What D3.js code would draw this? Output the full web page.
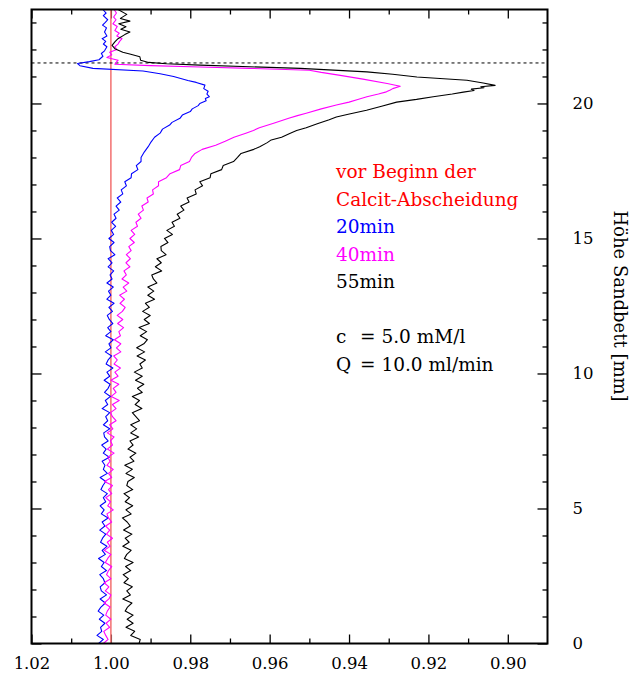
<!DOCTYPE html>
<html>
<head>
<meta charset="utf-8">
<script src="https://cdnjs.cloudflare.com/ajax/libs/d3/7.8.5/d3.min.js"></script>
<style>
  body { margin: 0; background: #fff; }
  svg text { font-family: "DejaVu Serif", serif; }
</style>
</head>
<body>
<div id="chart"></div>
<script>
// sample heights (mm) for the lower, noisy part of each profile: 0 .. 18 in 0.15 steps
const depthGrid = d3.range(121).map(i => +(i * 0.15).toFixed(2));

// 20 min (blue), values at depthGrid
const blueLow = [
  1.0031, 1.0019, 1.0035, 1.0023, 1.0026, 1.0015, 1.0029, 1.0018, 1.0032, 1.0025,
  1.0014, 1.0027, 1.0011, 1.0024, 1.0027, 1.0015, 1.0019, 1.0028, 1.0011, 1.0024,
  1.0017, 1.0031, 1.0014, 1.0022, 1.0010, 1.0026, 1.0021, 1.0013, 1.0028, 1.0015,
  1.0022, 1.0007, 1.0024, 1.0017, 1.0027, 1.0013, 1.0019, 1.0009, 1.0025, 1.0020,
  1.0013, 1.0027, 1.0009, 1.0019, 1.0015, 1.0022, 1.0004, 1.0019, 1.0012, 1.0023,
  1.0007, 1.0016, 1.0018, 1.0003, 1.0019, 1.0008, 1.0013, 1.0003, 1.0022, 1.0008,
  1.0014, 1.0001, 1.0016, 1.0007, 1.0002, 1.0017, 1.0003, 1.0010, 0.9995, 1.0012,
  1.0007, 0.9998, 1.0014, 1.0000, 1.0005, 0.9994, 1.0013, 1.0000, 1.0008, 0.9995,
  1.0004, 1.0009, 0.9996, 1.0005, 0.9992, 1.0010, 1.0000, 1.0006, 0.9994, 1.0010,
  0.9997, 1.0002, 0.9993, 1.0007, 0.9997, 1.0007, 0.9990, 1.0001, 1.0003, 0.9992,
  1.0005, 0.9993, 0.9999, 0.9988, 0.9998, 0.9987, 0.9992, 0.9979, 0.9987, 0.9975,
  0.9984, 0.9970, 0.9974, 0.9961, 0.9965, 0.9949, 0.9948, 0.9932, 0.9936, 0.9924,
  0.9924
];
// 20 min, upper part [height, value]
const blueTop = [
  [18.2, 0.9916], [18.4, 0.9906], [18.57, 0.9899], [18.75, 0.9890], [18.9, 0.9876],
  [19.05, 0.9870], [19.2, 0.9852], [19.3, 0.9846], [19.45, 0.9826], [19.57, 0.9820],
  [19.7, 0.9800], [19.8, 0.9795], [19.92, 0.9780], [20.0, 0.9776], [20.1, 0.9760],
  [20.18, 0.9762], [20.25, 0.9752], [20.35, 0.9758], [20.45, 0.9755], [20.55, 0.9766],
  [20.68, 0.9763], [20.78, 0.9785], [20.85, 0.9806], [21.0, 0.9842], [21.1, 0.9876],
  [21.2, 0.9919], [21.3, 1.0045], [21.4, 1.0078], [21.48, 1.0084], [21.55, 1.0054],
  [21.62, 1.0030], [21.75, 1.0020], [21.85, 1.0024], [21.95, 1.0016], [22.1, 1.0010],
  [22.2, 1.0019], [22.3, 1.0013], [22.4, 1.0022], [22.5, 1.0010], [22.65, 1.0016],
  [22.8, 1.0011], [22.9, 1.0021], [23.0, 1.0014], [23.1, 1.0008], [23.25, 1.0019],
  [23.35, 1.0012], [23.48, 1.0020]
];

// 40 min (magenta), values at depthGrid
const magentaLow = [
  1.0019, 1.0007, 1.0013, 1.0018, 1.0003, 1.0012, 1.0000, 1.0013, 1.0009, 1.0002,
  1.0017, 1.0005, 1.0000, 1.0014, 1.0005, 1.0017, 1.0000, 1.0011, 1.0006, 0.9998,
  1.0014, 1.0008, 1.0000, 1.0017, 1.0002, 1.0009, 0.9996, 1.0011, 1.0003, 1.0013,
  0.9998, 1.0006, 1.0010, 0.9994, 1.0008, 1.0001, 1.0013, 0.9998, 1.0006, 0.9996,
  1.0016, 0.9998, 1.0006, 0.9994, 1.0010, 1.0002, 1.0008, 0.9992, 1.0009, 0.9996,
  1.0001, 0.9992, 1.0009, 0.9995, 1.0003, 0.9987, 0.9996, 1.0001, 0.9987, 0.9996,
  0.9979, 0.9999, 0.9987, 0.9994, 0.9980, 1.0000, 0.9982, 0.9990, 0.9976, 0.9992,
  0.9984, 0.9993, 0.9975, 0.9986, 0.9975, 0.9991, 0.9976, 0.9980, 0.9968, 0.9983,
  0.9970, 0.9984, 0.9971, 0.9964, 0.9977, 0.9966, 0.9978, 0.9960, 0.9969, 0.9955,
  0.9972, 0.9961, 0.9967, 0.9952, 0.9962, 0.9951, 0.9961, 0.9949, 0.9955, 0.9941,
  0.9952, 0.9940, 0.9949, 0.9933, 0.9937, 0.9924, 0.9931, 0.9918, 0.9922, 0.9906,
  0.9909, 0.9893, 0.9895, 0.9880, 0.9880, 0.9860, 0.9851, 0.9827, 0.9824, 0.9802,
  0.9797
];
const magentaTop = [
  [18.15, 0.9788], [18.3, 0.9770], [18.45, 0.9736], [18.6, 0.9712], [18.75, 0.9690],
  [18.9, 0.9660], [19.0, 0.9641], [19.1, 0.9626], [19.27, 0.9590], [19.45, 0.9552],
  [19.55, 0.9530], [19.64, 0.9508], [19.8, 0.9470], [19.94, 0.9432], [20.05, 0.9400],
  [20.15, 0.9378], [20.25, 0.9355], [20.35, 0.9326], [20.43, 0.9306], [20.5, 0.9296],
  [20.55, 0.9290], [20.64, 0.9271], [20.74, 0.9304], [20.9, 0.9365], [21.04, 0.9422],
  [21.15, 0.9470], [21.23, 0.9500], [21.3, 0.9650], [21.35, 0.9775], [21.4, 0.9900],
  [21.45, 0.9990], [21.55, 0.9985], [21.6, 0.9982], [21.7, 1.0010], [21.8, 0.9998],
  [21.9, 1.0003], [22.0, 0.9985], [22.1, 0.9990], [22.2, 0.9982], [22.3, 0.9978],
  [22.4, 0.9972], [22.5, 0.9985], [22.6, 0.9979], [22.7, 0.9990], [22.85, 0.9984],
  [22.95, 0.9995], [23.1, 0.9987], [23.2, 0.9993], [23.35, 0.9986], [23.48, 0.9992]
];

// 55 min (black), values at depthGrid
const blackLow = [
  0.9929, 0.9926, 0.9950, 0.9940, 0.9962, 0.9944, 0.9959, 0.9944, 0.9964, 0.9958,
  0.9947, 0.9970, 0.9951, 0.9960, 0.9946, 0.9967, 0.9956, 0.9969, 0.9950, 0.9963,
  0.9944, 0.9966, 0.9960, 0.9949, 0.9970, 0.9954, 0.9964, 0.9947, 0.9968, 0.9951,
  0.9959, 0.9971, 0.9949, 0.9962, 0.9945, 0.9964, 0.9953, 0.9967, 0.9945, 0.9960,
  0.9957, 0.9941, 0.9962, 0.9946, 0.9965, 0.9942, 0.9952, 0.9937, 0.9957, 0.9944,
  0.9952, 0.9930, 0.9950, 0.9935, 0.9950, 0.9928, 0.9937, 0.9946, 0.9922, 0.9939,
  0.9928, 0.9946, 0.9921, 0.9933, 0.9917, 0.9938, 0.9921, 0.9941, 0.9921, 0.9927,
  0.9913, 0.9934, 0.9915, 0.9935, 0.9917, 0.9908, 0.9926, 0.9910, 0.9929, 0.9903,
  0.9916, 0.9901, 0.9920, 0.9903, 0.9913, 0.9890, 0.9907, 0.9892, 0.9907, 0.9884,
  0.9893, 0.9897, 0.9872, 0.9888, 0.9873, 0.9884, 0.9861, 0.9873, 0.9874, 0.9856,
  0.9865, 0.9845, 0.9859, 0.9840, 0.9846, 0.9826, 0.9833, 0.9816, 0.9824, 0.9803,
  0.9808, 0.9785, 0.9788, 0.9769, 0.9776, 0.9750, 0.9748, 0.9721, 0.9717, 0.9691,
  0.9681
];
const blackTop = [
  [18.15, 0.9672], [18.3, 0.9640], [18.4, 0.9625], [18.55, 0.9606], [18.65, 0.9596],
  [18.75, 0.9570], [18.9, 0.9548], [19.0, 0.9532], [19.1, 0.9508], [19.25, 0.9480],
  [19.4, 0.9450], [19.5, 0.9432], [19.6, 0.9402], [19.75, 0.9356], [19.9, 0.9318],
  [20.05, 0.9280], [20.15, 0.9230], [20.25, 0.9188], [20.35, 0.9140], [20.42, 0.9112],
  [20.48, 0.9085], [20.53, 0.9092], [20.58, 0.9060], [20.62, 0.9068], [20.67, 0.9032],
  [20.76, 0.9062], [20.86, 0.9103], [20.98, 0.9229], [21.08, 0.9290], [21.17, 0.9355],
  [21.3, 0.9523], [21.36, 0.9650], [21.42, 0.9775], [21.47, 0.9860], [21.52, 0.9905],
  [21.6, 0.9925], [21.73, 0.9927], [21.82, 0.9950], [21.9, 0.9970], [22.03, 0.9990],
  [22.15, 0.9997], [22.28, 0.9990], [22.4, 0.9982], [22.55, 0.9965], [22.65, 0.9952],
  [22.75, 0.9975], [22.84, 0.9962], [22.95, 0.9980], [23.05, 0.9952], [23.15, 0.9976],
  [23.3, 0.9960], [23.48, 0.9982]
];

const xTicks = [1.02, 1.00, 0.98, 0.96, 0.94, 0.92, 0.90];
const xMinor = [1.01, 0.99, 0.97, 0.95, 0.93, 0.91];
const yTicks = [0, 5, 10, 15, 20];
const yMinor = [1, 2, 3, 4, 6, 7, 8, 9, 11, 12, 13, 14, 16, 17, 18, 19, 21, 22, 23];
const initialLevel = 1.00;   // red line, before calcite precipitation
const bedTop = 21.5;         // dashed line

const legendLines = [
  { text: 'vor Beginn der', color: '#ff0000' },
  { text: 'Calcit-Abscheidung', color: '#ff0000' },
  { text: '20min', color: '#0000ff' },
  { text: '40min', color: '#ff00ff' },
  { text: '55min', color: '#000000' }
];

const width = 633, height = 675;
const margin = { top: 9.5, right: 85.5, bottom: 31.5, left: 31.5 };
const w = width - margin.left - margin.right;
const h = height - margin.top - margin.bottom;

const svg = d3.select('#chart').append('svg')
  .attr('width', width)
  .attr('height', height);

const g = svg.append('g')
  .attr('transform', `translate(${margin.left},${margin.top})`);

const x = d3.scaleLinear().domain([1.02, 0.89]).range([0, w]);
const y = d3.scaleLinear().domain([0, 23.48]).range([h, 0]);

g.append('clipPath').attr('id', 'plot-clip')
  .append('rect').attr('width', w).attr('height', h);

// axes: inward ticks on all four sides
function styleAxis(sel) {
  sel.select('.domain').remove();
  sel.selectAll('line').attr('stroke', '#000').attr('stroke-width', 1.3);
  sel.selectAll('text').attr('fill', '#000').style('font-size', '16.5px');
}

g.append('g').attr('transform', `translate(0,${h})`)
  .call(d3.axisBottom(x).tickValues(xTicks).tickSize(-9).tickPadding(14).tickFormat(d3.format('.2f')))
  .call(styleAxis);
g.append('g').attr('transform', `translate(0,${h})`)
  .call(d3.axisBottom(x).tickValues(xMinor).tickSize(-5).tickFormat(''))
  .call(styleAxis);
g.append('g')
  .call(d3.axisTop(x).tickValues(xTicks).tickSize(-9).tickFormat(''))
  .call(styleAxis);
g.append('g')
  .call(d3.axisTop(x).tickValues(xMinor).tickSize(-5).tickFormat(''))
  .call(styleAxis);

g.append('g').attr('transform', `translate(${w},0)`)
  .call(d3.axisRight(y).tickValues(yTicks).tickSize(-10).tickPadding(25))
  .call(styleAxis);
g.append('g').attr('transform', `translate(${w},0)`)
  .call(d3.axisRight(y).tickValues(yMinor).tickSize(-5).tickFormat(''))
  .call(styleAxis);
g.append('g')
  .call(d3.axisLeft(y).tickValues(yTicks).tickSize(-10).tickFormat(''))
  .call(styleAxis);
g.append('g')
  .call(d3.axisLeft(y).tickValues(yMinor).tickSize(-5).tickFormat(''))
  .call(styleAxis);

const plot = g.append('g').attr('clip-path', 'url(#plot-clip)');

// reference line before precipitation
plot.append('line')
  .attr('x1', x(initialLevel)).attr('x2', x(initialLevel))
  .attr('y1', y(0)).attr('y2', y(23.48))
  .attr('stroke', '#f47878')
  .attr('stroke-width', 1.6);

// top of the sand bed
plot.append('line')
  .attr('x1', 0).attr('x2', w)
  .attr('y1', y(bedTop)).attr('y2', y(bedTop))
  .attr('stroke', '#000')
  .attr('stroke-width', 1)
  .attr('stroke-dasharray', '3,3');

const line = d3.line()
  .x(d => x(d[1]))
  .y(d => y(d[0]));

const series = [
  { low: blueLow, top: blueTop, color: '#0000ff' },
  { low: magentaLow, top: magentaTop, color: '#ff00ff' },
  { low: blackLow, top: blackTop, color: '#000000' }
];

series.forEach(s => {
  const pts = depthGrid.map((d, i) => [d, s.low[i]]).concat(s.top);
  plot.append('path')
    .datum(pts)
    .attr('fill', 'none')
    .attr('stroke', s.color)
    .attr('stroke-width', 1.1)
    .attr('stroke-linejoin', 'round')
    .attr('d', line);
});

// frame
g.append('rect')
  .attr('width', w).attr('height', h)
  .attr('fill', 'none')
  .attr('stroke', '#000')
  .attr('stroke-width', 2);

// legend
const legend = svg.append('g').attr('transform', 'translate(336,0)');
legendLines.forEach((l, i) => {
  legend.append('text')
    .attr('x', 0).attr('y', 178 + i * 27.6)
    .attr('fill', l.color)
    .style('font-size', '18.5px')
    .text(l.text);
});
const paramLines = [['c', '= 5.0 mM/l'], ['Q', '= 10.0 ml/min']];
paramLines.forEach((p, i) => {
  legend.append('text').attr('x', 0).attr('y', 343 + i * 27.6)
    .style('font-size', '18.5px').text(p[0]);
  legend.append('text').attr('x', 24).attr('y', 343 + i * 27.6)
    .style('font-size', '18.5px').text(p[1]);
});

// axis title on the right, reading downwards
svg.append('text')
  .attr('transform', 'translate(614,306) rotate(90)')
  .attr('text-anchor', 'middle')
  .style('font-size', '18px')
  .text('Höhe Sandbett [mm]');
</script>
</body>
</html>
